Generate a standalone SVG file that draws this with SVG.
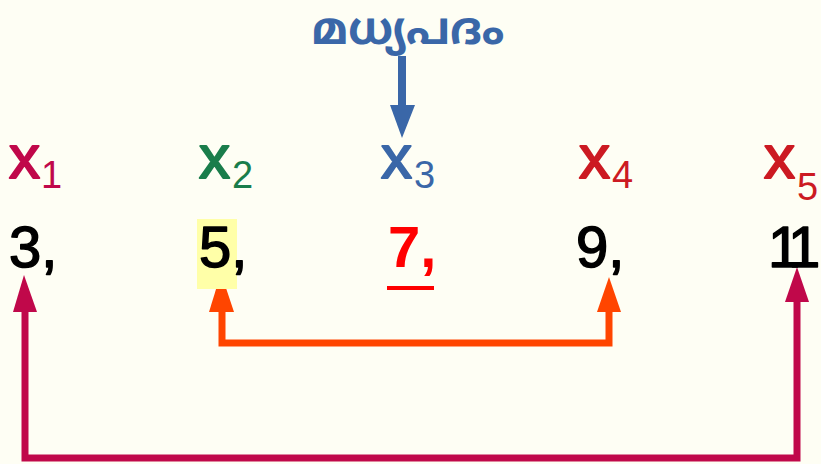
<svg xmlns="http://www.w3.org/2000/svg" width="821" height="464" viewBox="0 0 821 464">
<style>
.lbl{font-family:"Liberation Sans","Noto Sans",sans-serif;font-size:62px;stroke-width:2;stroke-linejoin:round}
.sub{font-family:"Liberation Sans","Noto Sans",sans-serif;font-size:38px}
.num{font-family:"Liberation Sans","Noto Sans",sans-serif;font-size:58px;fill:#000;stroke:#000;stroke-width:1.5;stroke-linejoin:round}
.ml{font-family:"Noto Sans Malayalam","Noto Sans","DejaVu Sans",sans-serif;font-size:45px;font-weight:bold;fill:#3a67a8}
.crim{fill:#c0084a;stroke:#c0084a}
.grn{fill:#1a7d4b;stroke:#1a7d4b}
.blu{fill:#3a67a8;stroke:#3a67a8}
.red{fill:#cc1a22;stroke:#cc1a22}
.sub.crim,.sub.grn,.sub.blu,.sub.red{stroke:none}
.line{fill:none;stroke-linejoin:miter;stroke-linecap:butt}
</style>
<rect width="821" height="464" fill="#fefef4"/>
<g id="median-label">
<text class="ml" x="408" y="44" text-anchor="middle">മധ്യപദം</text>
</g>
<g id="connectors">
<path class="line" d="M402,56 V108" stroke="#3a67a8" stroke-width="8"/>
<polygon points="390,105 415,105 402,138" fill="#3a67a8"/>
<path class="line" d="M222,311 V343 H609 V311" stroke="#ff4500" stroke-width="7"/>
<polygon points="209,312 234,312 221,273" fill="#ff4500"/>
<polygon points="597,312 621,312 609,277" fill="#ff4500"/>
<path class="line" d="M25,310 V458 H797 V300" stroke="#c0084a" stroke-width="7"/>
<polygon points="13,312 37,312 24,275" fill="#c0084a"/>
<polygon points="785,302 809,302 797,267" fill="#c0084a"/>
</g>
<g id="x1"><text class="lbl crim" x="9" y="178">x</text><text class="sub crim" x="41" y="188">1</text></g>
<g id="x2"><text class="lbl grn" x="199" y="178">x</text><text class="sub grn" x="232" y="188">2</text></g>
<g id="x3"><text class="lbl blu" x="381" y="178">x</text><text class="sub blu" x="414" y="188">3</text></g>
<g id="x4"><text class="lbl red" x="579" y="178">x</text><text class="sub red" x="612" y="188">4</text></g>
<g id="x5"><text class="lbl red" x="764" y="178">x</text><text class="sub red" x="797" y="200">5</text></g>
<g id="v3"><text class="num" x="9" y="267">3,</text></g>
<g id="v5"><rect x="197" y="219" width="40" height="70" fill="#ffffa8"/><text class="num" x="199" y="267">5,</text></g>
<g id="v7"><text class="num" x="388" y="267" style="fill:#ff0000;stroke:none;font-weight:bold">7,</text><rect x="387" y="286" width="47" height="4" fill="#ff0000"/></g>
<g id="v9"><text class="num" x="576" y="267">9,</text></g>
<g id="v11"><text class="num" x="768" y="267" letter-spacing="-8">11</text></g>
</svg>
